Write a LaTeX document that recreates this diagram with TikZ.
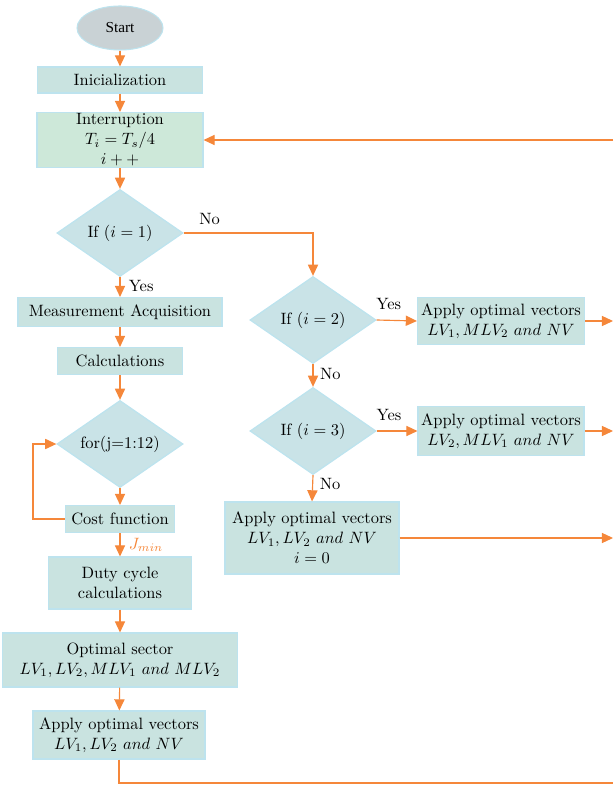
\documentclass[tikz,border=0pt]{standalone}
\usepackage{fontspec}
\newfontfamily\startfont{Liberation Serif}
\usetikzlibrary{shapes.geometric,arrows.meta}
\definecolor{boxfill}{HTML}{C9E3E0}
\definecolor{dfill}{HTML}{C9E3E7}
\definecolor{gfill}{HTML}{CDE8D9}
\definecolor{sfill}{HTML}{C9D2D5}
\definecolor{bord}{HTML}{BDE3EE}
\definecolor{orng}{HTML}{F5873A}
\def\un{0.609}
\begin{document}
\begin{tikzpicture}[x=\un pt,y=-\un pt,
  font=\fontsize{10}{12.2}\selectfont,
  box/.style 2 args={draw=bord, line width=0.65pt, fill=boxfill, align=center, inner sep=0pt,
    minimum width=#1*\un pt, minimum height=#2*\un pt},
  dia/.style={diamond, draw=bord, line width=0.8pt, fill=dfill, align=center, inner sep=0pt,
    aspect=1.43, minimum width=126*\un pt, minimum height=87*\un pt},
  conn/.style={draw=orng, line width=0.7pt},
  arr/.style={conn, -{Triangle[width=6.2pt,length=6.8pt]}},
  lbl/.style={inner sep=0pt}
]
\useasboundingbox (0,0) rectangle (613,785);

% left column
\node[ellipse, draw=bord, line width=0.65pt, fill=sfill, minimum width=86*\un pt, minimum height=44*\un pt, inner sep=0pt, font=\startfont\fontsize{9.3}{11}\selectfont] (start) at (120,28) {Start};
\node[box={165}{26}] (init) at (120,80) {Inicialization};
\node[box={166}{55}, fill=gfill] (intr) at (120,140) {Interruption\\$T_i = T_s/4$\\$i++$};
\node[dia] (d1) at (120,233) {If $(i=1)$};
\node[box={204}{29}] (meas) at (120,312) {Measurement Acquisition};
\node[box={125}{27}] (calc) at (120,361) {Calculations};
\node[dia] (dfor) at (120,444) {for(j=1:12)};
\node[box={109}{27}] (cost) at (120,519) {Cost function};
\node[box={143}{52}] (duty) at (120,583) {Duty cycle\\calculations};
\node[box={235}{54}] (sect) at (120,660) {Optimal sector\\$LV_1,LV_2,MLV_1\ and\ MLV_2$};
\node[box={172}{48}] (ap1) at (119,735) {Apply optimal vectors\\$LV_1,LV_2\ and\ NV$};

% right column
\node[dia] (d2) at (313,320) {If $(i=2)$};
\node[box={167}{47}] (ap2) at (501,321) {Apply optimal vectors\\$LV_1,MLV_2\ and\ NV$};
\node[dia] (d3) at (313,431) {If $(i=3)$};
\node[box={166}{49}] (ap3) at (501,431) {Apply optimal vectors\\$LV_2,MLV_1\ and\ NV$};
\node[box={174}{72}] (ap4) at (312,538) {Apply optimal vectors\\$LV_1,LV_2\ and\ NV$\\$i=0$};

% edge coordinates (picture is cut at the right edge)
\coordinate (fb) at (613,140);
\coordinate (e2) at (613,321);
\coordinate (e3) at (613,431);
\coordinate (e4) at (613,538);
\coordinate (bot) at (613,783);

% connectors
\draw[arr] (start) -- (init);
\draw[arr] (init) -- (intr);
\draw[arr] (intr) -- (d1);
\draw[arr] (d1.south) -- (meas.north) node[lbl, pos=0.45, right=5pt] {Yes};
\draw[arr] (meas) -- (calc);
\draw[arr] (calc) -- (dfor);
\draw[arr] (dfor.south) -- (cost.north);
\draw[arr] (cost.west) -- ++(-32,0) |- (dfor.west);
\draw[arr] (cost.south) -- (duty.north) node[lbl, pos=0.5, right=5pt, text=orng] {$J_{min}$};
\draw[arr] (duty) -- (sect);
\draw[arr] (sect) -- (ap1);
\draw[conn] (ap1.south) |- (bot);

\draw[arr] (d1.east) -| (d2.north) node[lbl, pos=0.1, above=5pt] {No};
\draw[arr] (d2.east) -- (ap2.west) node[lbl, pos=0.3, above=6pt] {Yes};
\draw[arr] (ap2.east) -- (e2);
\draw[arr] (d2.south) -- (d3.north) node[lbl, pos=0.45, right=4pt] {No};
\draw[arr] (d3.east) -- (ap3.west) node[lbl, pos=0.3, above=6pt] {Yes};
\draw[arr] (ap3.east) -- (e3);
\draw[arr] (d3.south) -- (ap4.north) node[lbl, pos=0.35, right=4pt] {No};
\draw[arr] (ap4.east) -- (e4);
\draw[arr] (fb) -- (intr.east);
\end{tikzpicture}
\end{document}
